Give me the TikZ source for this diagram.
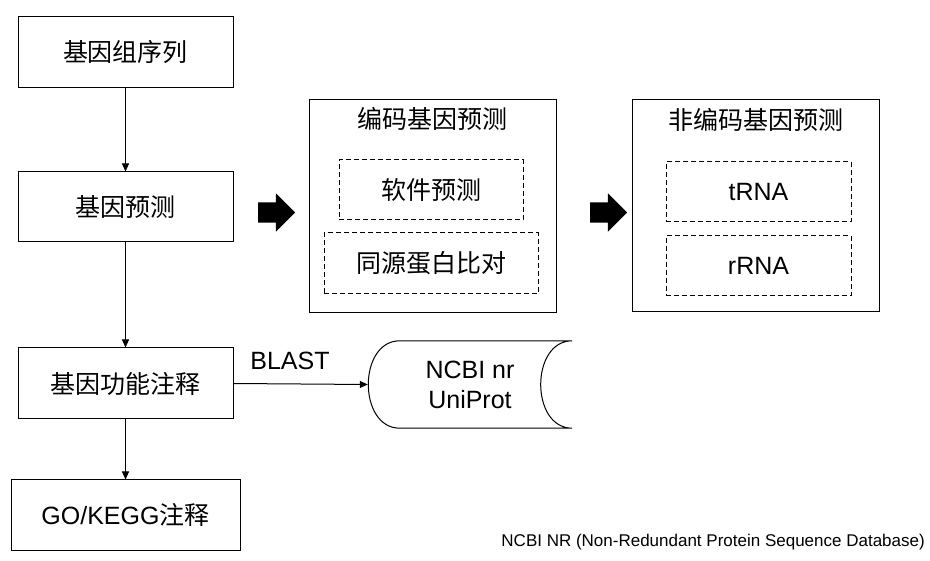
\documentclass[tikz,border=0pt]{standalone}
\usepackage{fontspec}
\setmainfont{Liberation Sans}
\newfontfamily\cjk{Noto Sans CJK SC}
\usetikzlibrary{arrows.meta,shapes.arrows,calc}

\begin{document}
\begin{tikzpicture}[x=1pt,y=-1pt,
  txt/.style={font=\fontsize{25}{30}\selectfont,inner sep=0pt},
  box/.style={txt,draw,line width=1pt},
  subbox/.style={box,dash pattern=on 5pt off 3pt},
  flow/.style={-{Triangle[length=8pt,width=7pt]},line width=1pt},
  bigarrow/.style={single arrow,fill=black,inner xsep=0pt,inner ysep=10pt,minimum height=37pt,
    single arrow head extend=9pt,single arrow head indent=0pt}]
\useasboundingbox (0,0) rectangle (930,561);
% main flow
\node[box,minimum width=215pt,minimum height=71pt] (seq) at (125.5,52.5) {\cjk 基因组序列};
\node[box,minimum width=215pt,minimum height=70pt] (pred) at (125.5,207) {\cjk 基因预测};
\node[box,minimum width=215pt,minimum height=71pt] (func) at (125.5,383.5) {\cjk 基因功能注释};
\node[box,minimum width=229pt,minimum height=70pt] (go) at (125.5,515) {GO/KEGG{\cjk 注释}};
\draw[flow] (seq) -- (pred);
\draw[flow] (pred) -- (func);
\draw[flow] (func) -- (go);
% coding genes
\node[bigarrow] (arr1) at (271.5,212.5) {};
\node[box,minimum width=247pt,minimum height=213pt] (coding) at (432.5,206.5) {};
\node[txt] (codingtitle) at (432.5,119) {\cjk 编码基因预测};
\node[subbox,minimum width=184pt,minimum height=60pt] (soft) at (431,190) {\cjk 软件预测};
\node[subbox,minimum width=214pt,minimum height=61pt] (homo) at (431,263.5) {\cjk 同源蛋白比对};
% non-coding genes
\node[bigarrow] (arr2) at (603.5,212.5) {};
\node[box,minimum width=247pt,minimum height=212pt] (noncoding) at (755.5,206) {};
\node[txt] (noncodingtitle) at (755.5,120) {\cjk 非编码基因预测};
\node[subbox,minimum width=185pt,minimum height=60pt] (trna) at (758.5,192) {tRNA};
\node[subbox,minimum width=185pt,minimum height=60pt] (rrna) at (758.5,266) {rRNA};
% database
\node[txt,align=center,minimum width=204pt,minimum height=87pt] (db) at (470,384.5) {NCBI nr\\UniProt};
\draw[line width=1pt] (db.north east) -- ($(db.north west)+(32,0)$)
  .. controls ($(db.north west)+(-10,0)$) and ($(db.south west)+(-10,0)$) .. ($(db.south west)+(32,0)$)
  -- (db.south east)
  .. controls ($(db.south east)+(-42,0)$) and ($(db.north east)+(-42,0)$) .. (db.north east);
\node[txt] (blast) at (290,361) {BLAST};
\draw[flow] (func.east) -- (db.west);
\node[font=\fontsize{17}{20}\selectfont,anchor=east,inner sep=0pt] (note) at (925,542)
  {NCBI NR (Non-Redundant Protein Sequence Database)};
\end{tikzpicture}
\end{document}
